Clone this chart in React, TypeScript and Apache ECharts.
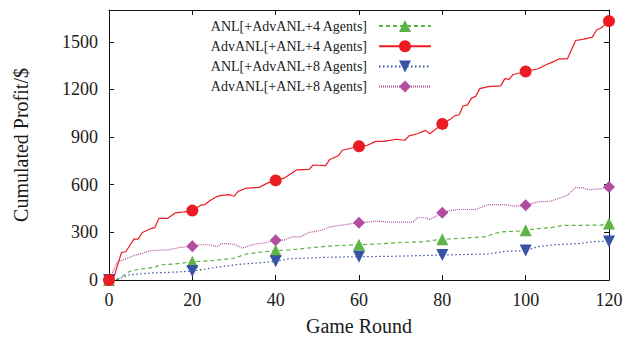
import React, { useEffect, useRef } from "react";
import * as echarts from "echarts";

const seriesNames = [
  "ANL[+AdvANL+4 Agents]",
  "AdvANL[+ANL+4 Agents]",
  "ANL[+AdvANL+8 Agents]",
  "AdvANL[+ANL+8 Agents]",
];

const xTicks = [0, 20, 40, 60, 80, 100, 120];
const yTicks = [0, 300, 600, 900, 1200, 1500];

// [round, cumulated profit]
const anl4: number[][] = [
  [0, 0], [2, 3], [3, 19], [5, 55], [6, 62], [8, 70], [11, 80], [12, 95], [16, 101], [20, 115],
  [25, 122], [30, 137], [33, 164], [36, 174], [40, 185], [43, 189], [47, 199], [52, 212], [54, 216],
  [60, 222], [64, 226], [70, 236], [75, 240], [80, 257], [85, 263], [90, 272], [94, 303], [99, 309],
  [100, 313], [103, 324], [106, 330], [109, 344], [113, 344], [118, 346], [120, 355],
];

const advanl4: number[][] = [
  [0, 0], [1, 2], [3, 174], [4, 178], [6, 257], [7, 257], [8, 299], [10, 323], [11, 330], [12, 388],
  [14, 388], [16, 423], [18, 429], [20, 437], [22, 471], [23, 475], [24, 496], [26, 527], [27, 533],
  [29, 537], [30, 527], [31, 558], [33, 579], [36, 583], [38, 610], [40, 627], [42, 641], [45, 693],
  [48, 697], [49, 724], [52, 720], [53, 759], [55, 782], [56, 817], [60, 842], [62, 848], [64, 873],
  [66, 873], [69, 886], [71, 880], [72, 907], [74, 921], [76, 942], [77, 921], [80, 983], [82, 1014],
  [83, 1035], [84, 1039], [85, 1097], [86, 1101], [87, 1145], [88, 1156], [89, 1205], [91, 1218],
  [94, 1222], [95, 1268], [96, 1263], [97, 1294], [100, 1313], [103, 1330], [105, 1357], [106, 1367],
  [108, 1392], [110, 1392], [112, 1508], [114, 1517], [116, 1529], [117, 1574], [118, 1585], [120, 1630],
];

const anl8: number[][] = [
  [0, 0], [2, 5], [5, 33], [10, 44], [16, 50], [20, 56], [26, 81], [31, 98], [38, 112], [40, 118],
  [43, 133], [52, 143], [60, 147], [68, 149], [75, 154], [80, 157], [91, 164], [95, 180], [100, 185],
  [103, 210], [107, 222], [113, 230], [117, 243], [120, 243],
];

const advanl8: number[][] = [
  [0, 0], [2, 112], [4, 133], [6, 154], [8, 168], [10, 185], [14, 189], [17, 205], [20, 212], [22, 222],
  [24, 222], [26, 210], [27, 230], [30, 226], [32, 201], [35, 226], [38, 236], [40, 250], [42, 251],
  [44, 272], [46, 272], [48, 299], [51, 313], [53, 334], [57, 350], [60, 361], [63, 367], [64, 371],
  [67, 365], [73, 365], [74, 392], [76, 392], [77, 381], [80, 423], [82, 437], [84, 444], [88, 444],
  [91, 475], [95, 475], [97, 465], [100, 471], [103, 492], [106, 496], [110, 533], [112, 583],
  [114, 579], [115, 568], [118, 574], [120, 585],
];

const FONT = "Liberation Serif, Times New Roman, serif";
const TEXT = "#1a1a1a";

function withMarkers(data: number[][]) {
  return data.map((d) => ({
    value: d,
    symbol: xTicks.includes(d[0]) ? undefined : "none",
  }));
}

export default function App() {
  const ref = useRef<HTMLDivElement>(null);
  useEffect(() => {
    if (!ref.current) return;
    const chart = echarts.init(ref.current, null, { renderer: "svg" });

    const styles = [
      { color: "#5cb445", symbol: "triangle", size: 12, rotate: 0, dash: [4, 3] as any, data: anl4 },
      { color: "#ec1c24", symbol: "circle", size: 12, rotate: 0, dash: "solid" as any, data: advanl4 },
      { color: "#3853a4", symbol: "triangle", size: 12, rotate: 180, dash: [1.5, 2.5] as any, data: anl8 },
      { color: "#b24d9f", symbol: "diamond", size: 12, rotate: 0, dash: [1, 1] as any, data: advanl8 },
    ];

    const axisCommon = {
      type: "value" as const,
      axisLine: { show: true, onZero: false, lineStyle: { color: "#111", width: 1 } },
      axisTick: { show: true, inside: true, length: 5, lineStyle: { color: "#111" } },
      splitLine: { show: false },
    };

    const legends = seriesNames.map((n, i) => ({
      data: [n],
      right: 194,
      top: 19 + i * 20.2,
      itemWidth: 52,
      itemHeight: 15,
      padding: 0,
      align: "right" as const,
      textStyle: { fontFamily: FONT, fontSize: 14, color: TEXT, padding: [0, 7, 0, 0] },
    }));

    chart.setOption({
      animation: false,
      backgroundColor: "#fff",
      grid: { left: 109, right: 17, top: 10, bottom: 58 },
      legend: legends,
      xAxis: [
        {
          ...axisCommon,
          position: "bottom",
          min: 0,
          max: 120,
          interval: 20,
          name: "Game Round",
          nameLocation: "middle",
          nameGap: 36,
          nameTextStyle: { fontFamily: FONT, fontSize: 20, color: TEXT },
          axisLabel: { fontFamily: FONT, fontSize: 18, color: TEXT, margin: 11 },
        },
        {
          ...axisCommon,
          position: "top",
          min: 0,
          max: 120,
          interval: 20,
          axisLabel: { show: false },
        },
      ],
      yAxis: [
        {
          ...axisCommon,
          position: "left",
          min: 0,
          max: 1700,
          interval: 300,
          name: "Cumulated Profit/$",
          nameLocation: "middle",
          nameGap: 78,
          nameTextStyle: { fontFamily: FONT, fontSize: 20, color: TEXT },
          axisLabel: {
            fontFamily: FONT,
            fontSize: 18,
            color: TEXT,
            margin: 11,
            showMaxLabel: false,
            formatter: (v: number) => (yTicks.includes(v) ? String(v) : ""),
          },
        },
        {
          ...axisCommon,
          position: "right",
          min: 0,
          max: 1700,
          interval: 300,
          axisLabel: { show: false },
        },
      ],
      series: styles.map((s, i) => ({
        name: seriesNames[i],
        type: "line",
        xAxisIndex: 0,
        yAxisIndex: 0,
        data: withMarkers(s.data),
        symbol: s.symbol,
        symbolSize: s.size,
        symbolRotate: s.rotate,
        showSymbol: true,
        showAllSymbol: true,
        color: s.color,
        itemStyle: { color: s.color, borderWidth: 0 },
        lineStyle: { color: s.color, width: 1.2, type: s.dash },
        z: [1, 4, 2, 3][i],
      })),
    });
    return () => chart.dispose();
  }, []);
  return (
    <div
      ref={ref}
      style={{ position: "fixed", left: 0, top: 0, width: 626, height: 341 }}
    />
  );
}
